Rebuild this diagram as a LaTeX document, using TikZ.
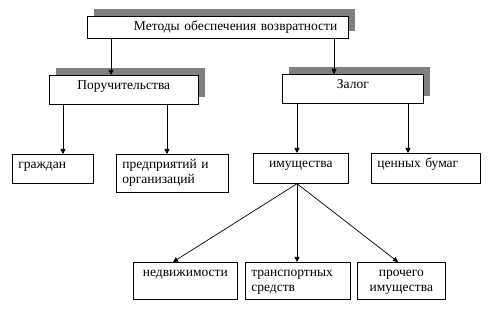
\documentclass[tikz,border=0pt]{standalone}
\usepackage{fontspec}
\setmainfont{Liberation Serif}
\usetikzlibrary{arrows.meta,shadows}
\tikzset{
  box/.style={draw,fill=white,line width=0.7pt,anchor=north west,inner xsep=6pt,inner ysep=3pt,
    text height=11pt,align=left,font=\fontsize{13.5}{15.5}\selectfont},
  shadowbox/.style={box,drop shadow={shadow xshift=6.5pt,shadow yshift=7pt,fill=gray,opacity=1}},
  arr/.style={line width=0.7pt,-{Triangle[length=5pt,width=5pt]}},
}
\begin{document}
\begin{tikzpicture}[x=1pt,y=-1pt]
\path[use as bounding box] (0,0) rectangle (491,310);
% upper levels
\node[shadowbox,text width=239pt,inner xsep=11pt,align=right,text depth=5pt] (title) at (87,16) {Методы обеспечения возвратности};
\node[shadowbox,text width=137pt,align=center,text depth=12pt] (surety) at (49,75) {Поручительства};
\node[shadowbox,text width=129pt,align=center,text depth=12pt] (pledge) at (282,74) {Залог};
% middle level
\node[box,text width=69pt,text depth=12pt] (citizens) at (12,154) {граждан};
\node[box,text width=100pt,text depth=21pt] (firms) at (116,154) {предприятий и\\организаций};
\node[box,text width=83pt,align=center,text depth=13pt] (property) at (253,153) {имущества};
\node[box,text width=97pt,text depth=13pt] (papers) at (371,153) {ценных бумаг};
% lower level
\node[box,text width=92pt,align=center,text depth=20pt] (realty) at (133,262) {недвижимости};
\node[box,text width=93pt,text depth=20pt] (vehicles) at (245,262) {транспортных\\средств};
\node[box,text width=76pt,align=center,text depth=20pt] (other) at (357,262) {прочего\\имущества};
% connectors
\draw[arr] (title.south -| 111,0) -- (surety.north -| 111,0);
\draw[arr] (title.south -| 334,0) -- (pledge.north -| 334,0);
\draw[arr] (surety.south -| 63,0) -- (citizens.north -| 63,0);
\draw[arr] (surety.south -| 167,0) -- (firms.north -| 167,0);
\draw[arr] (pledge.south -| 297,0) -- (property.north -| 297,0);
\draw[arr] (pledge.south -| 408,0) -- (papers.north -| 408,0);
\coordinate (fan) at (property.south -| 297,0);
\draw[arr] (fan) -- (realty.north -| 173,0);
\draw[arr] (fan) -- (vehicles.north -| 297,0);
\draw[arr] (fan) -- (other.north -| 398,0);
\end{tikzpicture}
\end{document}
